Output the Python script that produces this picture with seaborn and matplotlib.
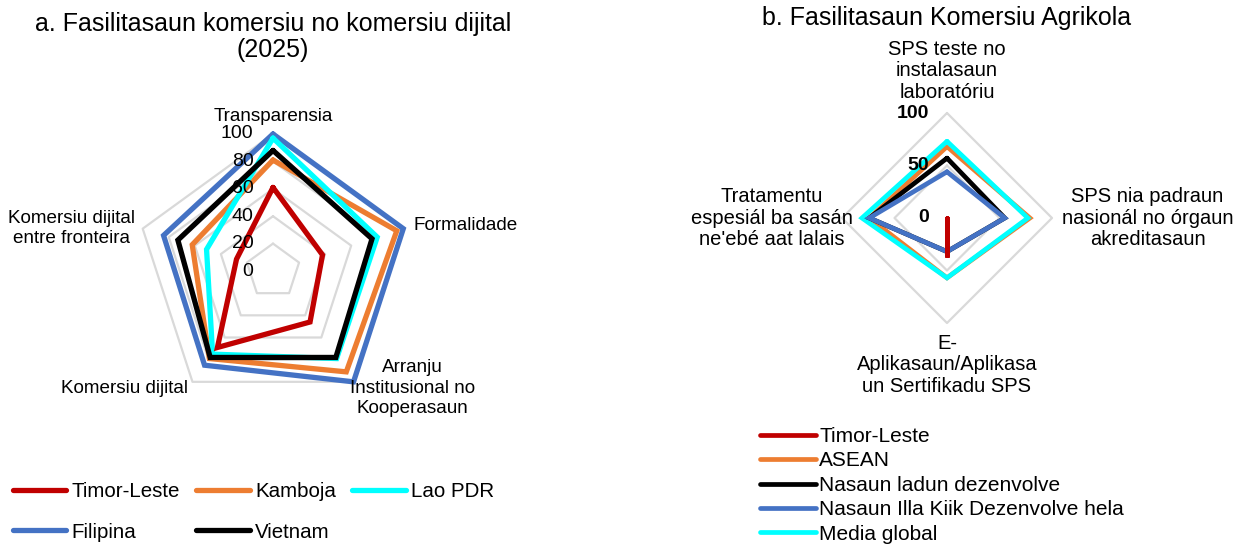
import numpy as np
import seaborn as sns
import matplotlib.pyplot as plt
from matplotlib.lines import Line2D

# --- data -------------------------------------------------------------
a_categories = ["Transparensia", "Formalidade", "Arranju\nInstitusional no\nKooperasaun",
                "Komersiu dijital", "Komersiu dijital\nentre fronteira"]
a_series = ["Timor-Leste", "Kamboja", "Lao PDR", "Filipina", "Vietnam"]
timor_a = [61, 38, 46, 69, 28]
kamboja = [81, 95, 91, 79, 62]
lao_pdr = [97, 80, 79, 75, 51]
filipina = [100, 100, 100, 85, 84]
vietnam = [88, 76, 78, 78, 73]
a_ticks = [0, 20, 40, 60, 80, 100]

b_categories = ["SPS teste no\ninstalasaun\nlaboratóriu",
                "SPS nia padraun\nnasionál no órgaun\nakreditasaun",
                "E-\nAplikasaun/Aplikasa\nun Sertifikadu SPS",
                "Tratamentu\nespesiál ba sasán\nne'ebé aat lalais"]
b_series = ["Timor-Leste", "ASEAN", "Nasaun ladun dezenvolve",
            "Nasaun Illa Kiik Dezenvolve hela", "Media global"]
timor_b = [0, 0, 37, 0]
asean = [68, 79, 57, 74]
ladun_dezenvolve = [57, 55, 32, 74]
illa_kiik = [44, 55, 32, 74]
media_global = [73, 77, 57, 81]
b_ticks = [0, 50, 100]

RED, ORANGE, CYAN, BLUE, BLACK = "#C00000", "#ED7D31", "#00FFFF", "#4472C4", "#000000"
GRID = "#D9D9D9"

sns.set_style("white")
plt.rcParams['font.family'] = ['Liberation Sans', 'DejaVu Sans']
plt.rcParams['text.color'] = 'black'
plt.rcParams['axes.labelcolor'] = 'black'

fig = plt.figure(figsize=(12.4, 5.46), dpi=100)
W, H = 1240, 546


def polar_ax(cx, cy, r):
    ax = fig.add_axes([(cx - r) / W, (H - cy - r) / H, 2 * r / W, 2 * r / H],
                      projection="polar")
    ax.set_theta_zero_location("N")
    ax.set_theta_direction(-1)
    ax.grid(False)
    ax.set_xticks([])
    ax.set_yticks([])
    ax.spines["polar"].set_visible(False)
    ax.set_facecolor("none")
    return ax


def closed(vals):
    return list(vals) + [vals[0]]


def draw_radar(ax, n, rings, series, lw):
    ang = np.linspace(0, 2 * np.pi, n, endpoint=False)
    ang_c = closed(list(ang))
    for lev in rings:
        ax.plot(ang_c, [lev] * (n + 1), color=GRID, lw=1.6, clip_on=False, zorder=1)
    handles = {}
    for name, vals, color in series:
        sns.lineplot(x=ang_c, y=closed(vals), ax=ax, sort=False, estimator=None,
                     color=color, linewidth=lw, legend=False)
        ln = ax.lines[-1]
        ln.set_clip_on(False)
        ln.set_solid_joinstyle("miter")
        handles[name] = Line2D([], [], color=color, lw=lw, solid_capstyle="round")
    ax.set_ylim(0, 100)
    ax.set_xlabel("")
    ax.set_ylabel("")
    return ang, handles


# --- chart a ------------------------------------------------------------
ax1 = polar_ax(273, 271, 137)
ang_a, h_a = draw_radar(
    ax1, 5, a_ticks[1:],
    [("Filipina", filipina, BLUE), ("Kamboja", kamboja, ORANGE),
     ("Lao PDR", lao_pdr, CYAN), ("Vietnam", vietnam, BLACK),
     ("Timor-Leste", timor_a, RED)], 3.8)

for t in a_ticks:
    ax1.annotate(str(t), xy=(0, t), xytext=(-14, 0), textcoords="offset points",
                 ha="right", va="center", fontsize=14)

a_label_pos = [(0, 113, "center", "center"), (72, 108, "left", "center"),
               (130, 133, "center", "center"), (216, 106, "right", "center"),
               (282, 150, "center", "center")]
for lab, (deg, r, ha, va) in zip(a_categories, a_label_pos):
    ax1.text(np.deg2rad(deg), r, lab, ha=ha, va=va, fontsize=13.6, linespacing=1.25)

fig.text(273 / W, 1 - 37 / H, "a. Fasilitasaun komersiu no komersiu dijital\n(2025)",
         ha="center", va="center", fontsize=18, linespacing=1.15)

order_a = ["Timor-Leste", "Filipina", "Kamboja", "Vietnam", "Lao PDR"]
fig.legend([h_a[k] for k in order_a], order_a, loc="upper left", ncol=3,
           bbox_to_anchor=(13 / W, 1 - 482 / H), frameon=False, fontsize=14.8,
           handlelength=2.6, handletextpad=0.25, columnspacing=0.8,
           labelspacing=1.05, borderpad=0, borderaxespad=0)

# --- chart b ------------------------------------------------------------
ax2 = polar_ax(947, 218, 105)
ang_b, h_b = draw_radar(
    ax2, 4, b_ticks[1:],
    [("ASEAN", asean, ORANGE), ("Media global", media_global, CYAN),
     ("Nasaun ladun dezenvolve", ladun_dezenvolve, BLACK),
     ("Nasaun Illa Kiik Dezenvolve hela", illa_kiik, BLUE),
     ("Timor-Leste", timor_b, RED)], 3.4)

for t in b_ticks:
    ax2.annotate(str(t), xy=(0, t), xytext=(-13, 0), textcoords="offset points",
                 ha="right", va="center", fontsize=14, fontweight="bold")

b_label_pos = [(0, 140), (90, 191), (180, 140), (270, 167)]
for lab, (deg, r) in zip(b_categories, b_label_pos):
    ax2.text(np.deg2rad(deg), r, lab, ha="center", va="center", fontsize=14.5,
             linespacing=1.15)

fig.text(947 / W, 1 - 18 / H, "b. Fasilitasaun Komersiu Agrikola",
         ha="center", va="center", fontsize=18)

fig.legend([h_b[k] for k in b_series], b_series, loc="upper left", ncol=1,
           bbox_to_anchor=(760 / W, 1 - 427 / H), frameon=False, fontsize=15,
           handlelength=2.7, handletextpad=0.15, labelspacing=0.26,
           borderpad=0, borderaxespad=0)

fig.savefig("out.png", dpi=100)
